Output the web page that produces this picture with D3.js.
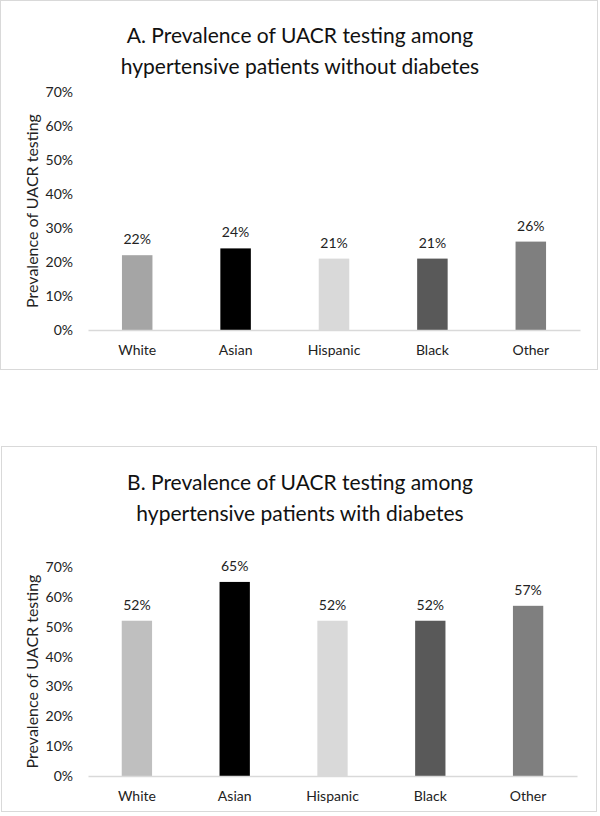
<!DOCTYPE html>
<html><head><meta charset="utf-8">
<script src="https://cdn.jsdelivr.net/npm/d3@7"></script>
<style>body{margin:0;background:#fff;} text{font-family:Lato,"Open Sans",sans-serif;}</style>
</head><body><svg id="c" width="600" height="816"></svg>
<script>
const categories = ["White","Asian","Hispanic","Black","Other"];
const valuesA = [22,24,21,21,26];
const valuesB = [52,65,52,52,57];
const colorsA = ["#a5a5a5","#000000","#d9d9d9","#595959","#7f7f7f"];
const colorsB = ["#bfbfbf","#000000","#d9d9d9","#595959","#7f7f7f"];
const yTicks = [0,10,20,30,40,50,60,70];
const titleA = ["A. Prevalence of UACR testing among","hypertensive patients without diabetes"];
const titleB = ["B. Prevalence of UACR testing among","hypertensive patients with diabetes"];
const yTitle = "Prevalence of UACR testing";

const svg = d3.select("#c");

function panel(cfg){
  const g = svg.append("g");
  g.append("rect").attr("x",cfg.bx).attr("y",cfg.by).attr("width",cfg.bw).attr("height",cfg.bh)
    .attr("fill","#fff").attr("stroke","#d9d9d9").attr("stroke-width",1);
  cfg.title.forEach((t,i)=>{
    g.append("text").attr("x",cfg.tx).attr("y",cfg.ty + i*31).attr("text-anchor","middle")
      .attr("font-size",21).attr("fill","#111").text(t);
  });
  const x = d3.scaleBand().domain(categories).range([cfg.x0,cfg.x1]).paddingInner(0.69).paddingOuter(0.345);
  const y = d3.scaleLinear().domain([0,70]).range([cfg.y0,cfg.y1]);
  const ya = d3.axisLeft(y).tickValues(yTicks).tickFormat(d=>d+"%").tickSize(0).tickPadding(15);
  const yg = g.append("g").attr("transform",`translate(${cfg.x0},0)`).call(ya);
  yg.select(".domain").remove();
  yg.selectAll("text").attr("font-size",14).attr("fill","#222").style("font-family","Lato");
  g.selectAll(".bar").data(cfg.values).enter().append("rect")
    .attr("x",(d,i)=>x(categories[i])).attr("width",x.bandwidth())
    .attr("y",d=>y(d)).attr("height",d=>y(0)-y(d)).attr("fill",(d,i)=>cfg.colors[i]);
  const xa = d3.axisBottom(x).tickSize(0).tickPadding(15);
  const xg = g.append("g").attr("transform",`translate(0,${cfg.y0})`).call(xa);
  xg.select(".domain").attr("stroke","#d9d9d9").attr("stroke-width",1.5);
  xg.selectAll("text").attr("font-size",14).attr("fill","#222").style("font-family","Lato");
  g.selectAll(".lab").data(cfg.values).enter().append("text")
    .attr("x",(d,i)=>x(categories[i])+x.bandwidth()/2).attr("y",d=>y(d)-11)
    .attr("text-anchor","middle").attr("font-size",14).attr("fill","#222").text(d=>d+"%");
  g.append("text").attr("transform",`translate(${cfg.ytx},${(cfg.y0+cfg.y1)/2}) rotate(-90)`)
    .attr("text-anchor","middle").attr("font-size",16).attr("fill","#222").text(yTitle);
}

panel({bx:0.5,by:0.5,bw:597,bh:369,title:titleA,tx:300,ty:43,x0:88,x1:580,y0:330,y1:92,
  values:valuesA,colors:colorsA,ytx:38});
panel({bx:1.5,by:446.5,bw:595,bh:365,title:titleB,tx:300,ty:490,x0:88,x1:577,y0:776,y1:567,
  values:valuesB,colors:colorsB,ytx:38});
</script></body></html>
